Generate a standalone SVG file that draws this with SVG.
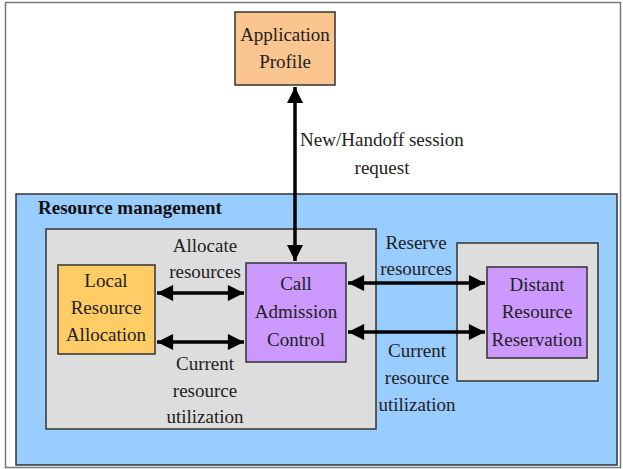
<svg xmlns="http://www.w3.org/2000/svg" width="623" height="469" viewBox="0 0 623 469">
<defs>
<marker id="ah" viewBox="0 0 10 10" refX="10" refY="5" markerWidth="5.6" markerHeight="4.6" orient="auto-start-reverse" markerUnits="strokeWidth">
<path d="M0,0 L10,5 L0,10 z" fill="#000"/>
</marker>
<style>
text{font-family:'Liberation Serif','DejaVu Serif','Times New Roman',serif;font-size:19px;fill:#222;text-anchor:middle}
.title{font-weight:bold;font-size:19px;text-anchor:start;fill:#111}
.box{stroke:#333;stroke-width:1.5}
.conn line{stroke:#000;stroke-width:3.5;marker-start:url(#ah);marker-end:url(#ah)}
</style>
</defs>
<rect x="0" y="0" width="623" height="469" fill="#fff"/>
<rect x="5.5" y="2.5" width="615" height="465" fill="#fff" stroke="#777" stroke-width="1.5"/>
<g id="resource-management">
<rect class="box" x="16" y="194" width="601" height="271" fill="#99CCFF"/>
<text class="title" x="38" y="214">Resource management</text>
</g>
<g id="local-group"><rect class="box" x="46" y="229" width="330" height="200" fill="#DDDDDD" stroke="#555"/></g>
<g id="distant-group"><rect class="box" x="457" y="243" width="141" height="138" fill="#DDDDDD"/></g>
<g id="application-profile">
<rect class="box" x="235" y="12" width="100" height="73" fill="#FBC590"/>
<text x="285" y="41">Application</text>
<text x="285" y="68">Profile</text>
</g>
<g id="local-resource-allocation">
<rect class="box" x="58" y="265" width="97" height="89" fill="#FFCC66"/>
<text x="106" y="287">Local</text>
<text x="106" y="314">Resource</text>
<text x="106" y="341">Allocation</text>
</g>
<g id="call-admission-control">
<rect class="box" x="246" y="263" width="100" height="99" fill="#CC99FF"/>
<text x="296" y="290">Call</text>
<text x="296" y="318">Admission</text>
<text x="296" y="346">Control</text>
</g>
<g id="distant-resource-reservation">
<rect class="box" x="487" y="267" width="100" height="91" fill="#CC99FF"/>
<text x="537" y="291">Distant</text>
<text x="537" y="318">Resource</text>
<text x="537" y="346">Reservation</text>
</g>
<g class="conn" id="connectors">
<line x1="295" y1="87" x2="295" y2="261"/>
<line x1="157" y1="293" x2="244" y2="293"/>
<line x1="157" y1="342" x2="244" y2="342"/>
<line x1="348" y1="283" x2="485" y2="283"/>
<line x1="348" y1="332" x2="485" y2="332"/>
</g>
<g id="labels">
<text x="382" y="146">New/Handoff session</text>
<text x="382" y="174">request</text>
<text x="205" y="252">Allocate</text>
<text x="205" y="278">resources</text>
<text x="205" y="370">Current</text>
<text x="205" y="397">resource</text>
<text x="205" y="423">utilization</text>
<text x="416" y="249">Reserve</text>
<text x="416" y="275">resources</text>
<text x="417" y="357">Current</text>
<text x="417" y="384">resource</text>
<text x="417" y="411">utilization</text>
</g>
</svg>
